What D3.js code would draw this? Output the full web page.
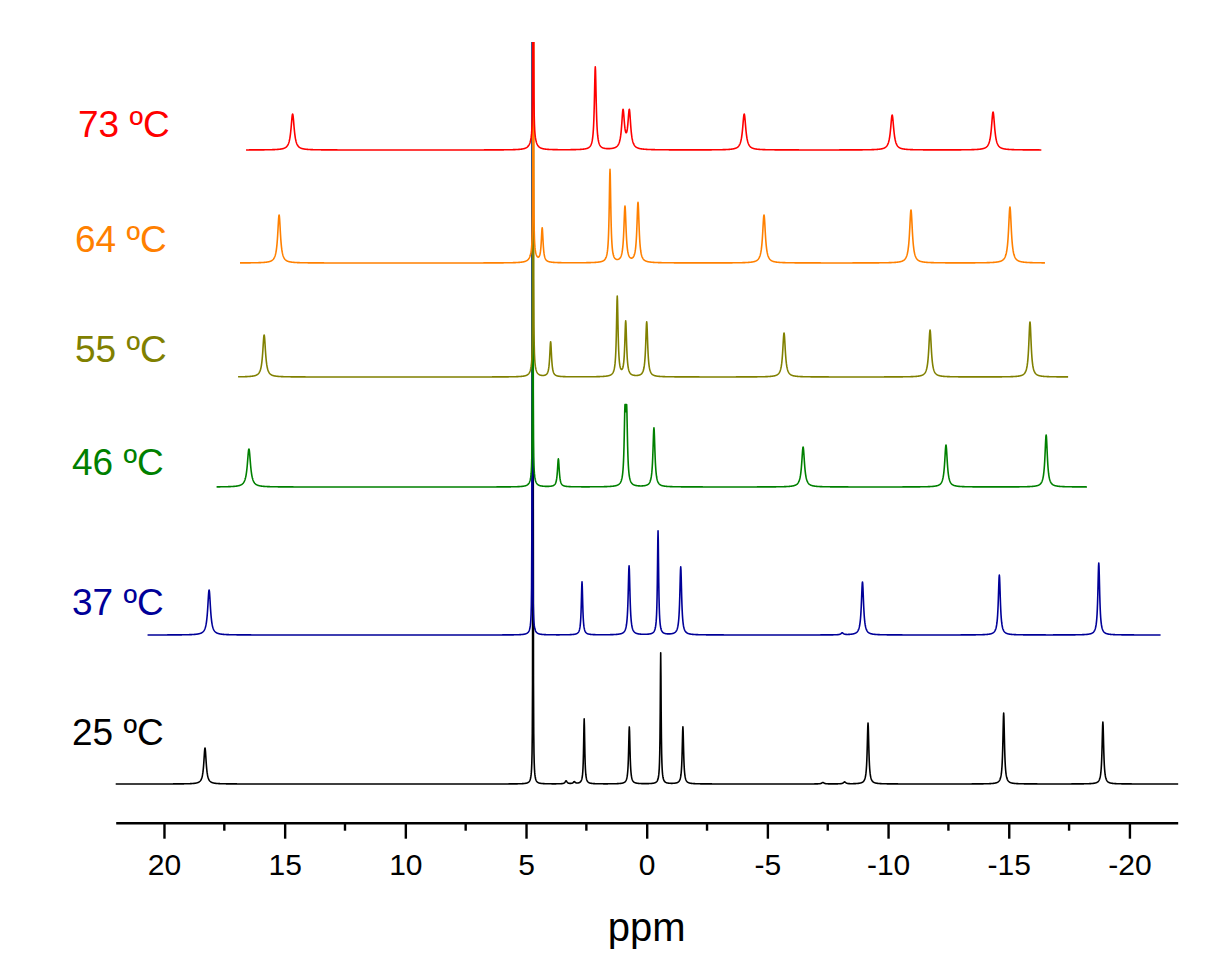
<!DOCTYPE html>
<html>
<head>
<meta charset="utf-8">
<script src="https://cdn.jsdelivr.net/npm/d3@7"></script>
<style>
  html, body { margin: 0; padding: 0; background: #ffffff; }
  svg { display: block; }
  text { font-family: "Liberation Sans", Arial, Helvetica, sans-serif; }
</style>
</head>
<body>
<svg id="chart" width="1206" height="974"></svg>
<script>
// ---------------- DATA ----------------
const tempLabels = ["73 ºC", "64 ºC", "55 ºC", "46 ºC", "37 ºC", "25 ºC"];
const seriesColors = ["#ff0000", "#ff8000", "#808000", "#008000", "#000098", "#000000"];
// vertical stacking offset of each spectrum (intensity units)
const seriesOffsets = [634, 521, 407, 297, 149, 0];
// recorded ppm range of each spectrum [start, end]
const seriesRanges = [[16.6, -16.35], [16.85, -16.5], [16.93, -17.46], [17.82, -18.25], [20.68, -21.3], [22.0, -22.03]];

// peaks: [ppm, height, half-width (ppm)]
const peaks73 = [[14.67, 36, 0.08], [4.70, 1500, 0.005], [4.70, 12, 0.12], [2.13, 83, 0.045], [0.98, 38, 0.07], [0.72, 38, 0.07], [-4.04, 36, 0.08], [-10.17, 35, 0.08], [-14.35, 38, 0.08]];
const peaks64 = [[15.23, 48, 0.07], [4.70, 1500, 0.005], [4.70, 10, 0.12], [4.33, 34, 0.045], [1.52, 93, 0.04], [0.90, 56, 0.055], [0.36, 60, 0.055], [-4.86, 48, 0.07], [-10.95, 53, 0.07], [-15.05, 56, 0.07]];
const peaks55 = [[15.85, 42, 0.07], [4.70, 1500, 0.005], [4.70, 10, 0.1], [3.98, 35, 0.045], [1.22, 80, 0.04], [0.87, 55, 0.045], [0.00, 55, 0.05], [-5.69, 44, 0.065], [-11.74, 47, 0.065], [-15.88, 55, 0.06]];
const peaks46 = [[16.48, 38, 0.08], [4.72, 1500, 0.005], [4.72, 8, 0.1], [3.66, 28, 0.045], [0.90, 66, 0.04], [0.83, 66, 0.04], [-0.30, 59, 0.05], [-6.48, 40, 0.07], [-12.40, 42, 0.065], [-16.55, 52, 0.06]];
const peaks37 = [[18.13, 45, 0.07], [4.74, 1500, 0.005], [4.74, 8, 0.08], [2.68, 53, 0.035], [0.73, 69, 0.045], [-0.47, 104, 0.03], [-1.41, 68, 0.045], [-8.10, 2, 0.06], [-8.94, 53, 0.055], [-14.61, 60, 0.05], [-18.73, 72, 0.045]];
const peaks25 = [[18.30, 36, 0.06], [4.71, 1500, 0.005], [4.71, 16, 0.04], [3.34, 3, 0.05], [3.00, 2, 0.05], [2.59, 65, 0.028], [0.72, 57, 0.035], [-0.58, 131, 0.022], [-1.50, 57, 0.035], [-7.30, 1.5, 0.06], [-8.20, 2, 0.06], [-9.17, 61, 0.04], [-14.79, 71, 0.04], [-18.90, 62, 0.04]];
const seriesPeaks = [peaks73, peaks64, peaks55, peaks46, peaks37, peaks25];

const majorTicks = [20, 15, 10, 5, 0, -5, -10, -15, -20];
const minorTicks = [17.5, 12.5, 7.5, 2.5, -2.5, -7.5, -12.5, -17.5];
const axisTitle = "ppm";

// ---------------- LAYOUT ----------------
const W = 1206, H = 974;
const plotTop = 42, axisY = 822.7;
const labelPos = [[78, 137], [75, 252], [75, 362], [72, 475], [72, 615], [72, 745]];

const svg = d3.select("#chart");
svg.append("rect").attr("width", W).attr("height", H).attr("fill", "#ffffff");

const x = d3.scaleLinear().domain([22, -22]).range([115.7, 1177.7]);
const y = d3.scaleLinear().domain([0, 742]).range([784, plotTop]);

svg.append("defs").append("clipPath").attr("id", "plotclip")
  .append("rect").attr("x", 0).attr("y", plotTop).attr("width", W).attr("height", axisY - plotTop);

// Lorentzian line shape built from the peak table
function spectrum(peaks, range) {
  const pts = [];
  const step = 0.01;
  const xs = [];
  for (let p = range[0]; p >= range[1]; p -= step) xs.push(p);
  peaks.forEach(pk => { if (pk[0] <= range[0] && pk[0] >= range[1]) xs.push(pk[0]); });
  xs.sort((a, b) => b - a);
  xs.forEach(p => {
    let v = 0;
    peaks.forEach(([c, h, g]) => { const d = p - c; v += h * g * g / (d * d + g * g); });
    pts.push([p, v]);
  });
  return pts;
}

const line = d3.line().x(d => x(d[0])).y(d => d[1]);

const g = svg.append("g").attr("clip-path", "url(#plotclip)");
// draw bottom (black) first, red last
for (let i = seriesPeaks.length - 1; i >= 0; i--) {
  const pts = spectrum(seriesPeaks[i], seriesRanges[i]).map(d => [d[0], y(d[1] + seriesOffsets[i])]);
  g.append("path")
    .attr("d", line(pts))
    .attr("fill", "none")
    .attr("stroke", seriesColors[i])
    .attr("stroke-width", 1.6)
    .attr("stroke-linejoin", "round");
}

// labels
tempLabels.forEach((t, i) => {
  svg.append("text")
    .attr("x", labelPos[i][0]).attr("y", labelPos[i][1])
    .attr("fill", seriesColors[i])
    .attr("font-size", 37)
    .text(t);
});

// axis
const axisG = svg.append("g").attr("transform", `translate(0,${axisY})`);
axisG.call(d3.axisBottom(x).tickValues(majorTicks).tickSize(16).tickSizeOuter(0).tickFormat(d => String(d)));
axisG.select(".domain").attr("stroke", "#000").attr("stroke-width", 2.4);
axisG.selectAll(".tick line").attr("stroke", "#000").attr("stroke-width", 2.4);
axisG.selectAll(".tick text")
  .attr("y", 52).attr("dy", 0)
  .attr("font-size", 30)
  .attr("fill", "#000")
  .style("font-family", '"Liberation Sans", Arial, sans-serif');

const minorG = axisG.append("g");
minorG.selectAll("line").data(minorTicks).enter().append("line")
  .attr("x1", d => x(d)).attr("x2", d => x(d))
  .attr("y1", 0).attr("y2", 8)
  .attr("stroke", "#000").attr("stroke-width", 2.4);

svg.append("text")
  .attr("x", x(0)).attr("y", 941)
  .attr("text-anchor", "middle")
  .attr("font-size", 40)
  .attr("fill", "#000")
  .text(axisTitle);
</script>
</body>
</html>
